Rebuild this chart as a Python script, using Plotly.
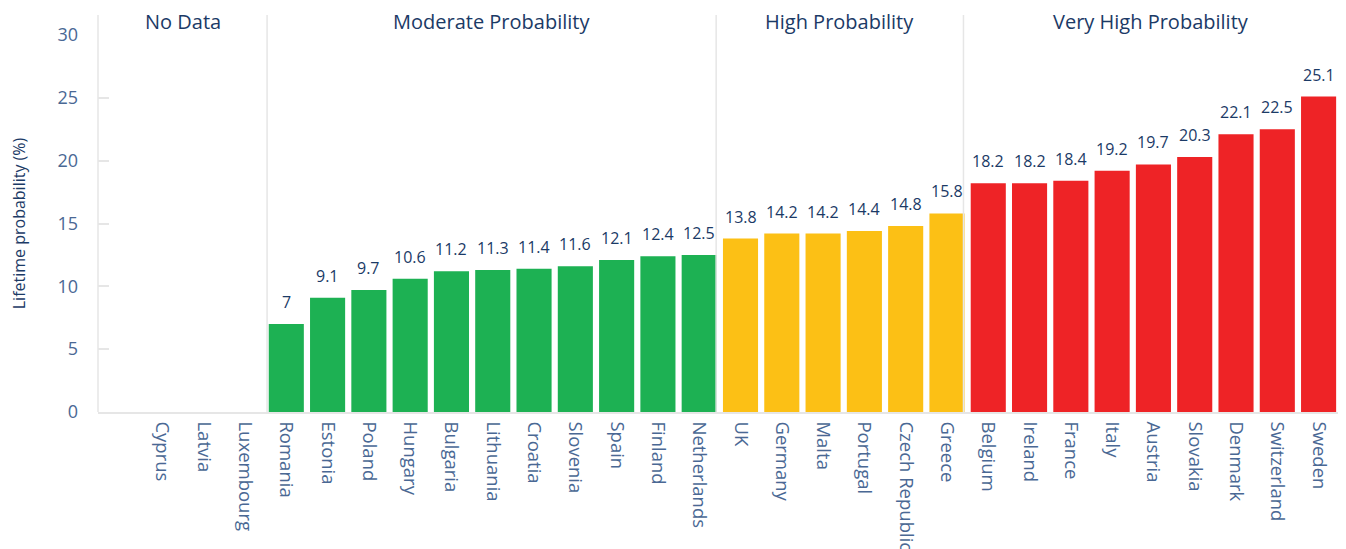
import plotly.graph_objects as go

# ---- data ----
countries = ["Cyprus", "Latvia", "Luxembourg",
             "Romania", "Estonia", "Poland", "Hungary", "Bulgaria", "Lithuania",
             "Croatia", "Slovenia", "Spain", "Finland", "Netherlands",
             "UK", "Germany", "Malta", "Portugal", "Czech Republic", "Greece",
             "Belgium", "Ireland", "France", "Italy", "Austria", "Slovakia",
             "Denmark", "Switzerland", "Sweden"]
values = [None, None, None,
          7, 9.1, 9.7, 10.6, 11.2, 11.3, 11.4, 11.6, 12.1, 12.4, 12.5,
          13.8, 14.2, 14.2, 14.4, 14.8, 15.8,
          18.2, 18.2, 18.4, 19.2, 19.7, 20.3, 22.1, 22.5, 25.1]
groups = (["No Data"] * 3 + ["Moderate Probability"] * 11 +
          ["High Probability"] * 6 + ["Very High Probability"] * 9)
group_names = ["No Data", "Moderate Probability", "High Probability", "Very High Probability"]
y_ticks = [0, 5, 10, 15, 20, 25, 30]

# ---- styles ----
group_colors = {"No Data": "#bbbbbb", "Moderate Probability": "#1db153",
                "High Probability": "#fcc015", "Very High Probability": "#ee2326"}
NAVY = "#1b3a66"
TICK = "#4a6894"
GRID = "#e6e6e6"
FONT = "Open Sans"

x_range = [-1.56, 28.47]
separators = [2.535, 13.41, 19.40]

fig = go.Figure(go.Bar(
    x=countries, y=values,
    marker=dict(color=[group_colors[g] for g in groups], line=dict(width=0)),
    showlegend=False, hoverinfo="x+y",
))

shapes = [dict(type="line", xref="paper", yref="paper", x0=0, x1=0, y0=0, y1=1.053,
               line=dict(color=GRID, width=1.5))]
for s in separators:
    shapes.append(dict(type="line", xref="x", yref="paper", x0=s, x1=s, y0=0, y1=1.053,
                       line=dict(color=GRID, width=1.5)))

bounds = [x_range[0]] + separators + [x_range[1]]
annotations = []
for i, g in enumerate(group_names):
    annotations.append(dict(x=(bounds[i] + bounds[i + 1]) / 2, xref="x",
                            y=1.0345, yref="paper", yanchor="middle", xanchor="center",
                            text=g, showarrow=False,
                            font=dict(family=FONT, size=20, color=NAVY)))
for c, v in zip(countries, values):
    if v is None:
        continue
    annotations.append(dict(x=c, y=v, xref="x", yref="y", yanchor="bottom",
                            xanchor="center", yshift=9, text=f"{v:g}", showarrow=False,
                            font=dict(family=FONT, size=16, color=NAVY)))

fig.update_layout(
    width=1346, height=549,
    margin=dict(l=90, r=16, t=27, b=145),
    plot_bgcolor="white", paper_bgcolor="white",
    bargap=0.15,
    font=dict(family=FONT, color=NAVY),
    shapes=shapes, annotations=annotations,
    xaxis=dict(range=x_range, tickangle=90, showgrid=False, showline=True,
               linecolor=GRID, linewidth=1.5, ticks="", zeroline=False,
               automargin=False, ticklabelstandoff=4,
               tickfont=dict(family=FONT, size=18.5, color=TICK)),
    yaxis=dict(range=[0, 30], tickvals=y_ticks, showgrid=False, zeroline=False,
               showline=False, ticks="inside", ticklen=11, tickcolor=GRID, tickwidth=1.5,
               ticklabelstandoff=19, automargin=False,
               tickfont=dict(family=FONT, size=18, color=TICK),
               title=dict(text="Lifetime probability (%)", standoff=32,
                          font=dict(family=FONT, size=16, color=NAVY))),
)

fig.write_html("out.html")
